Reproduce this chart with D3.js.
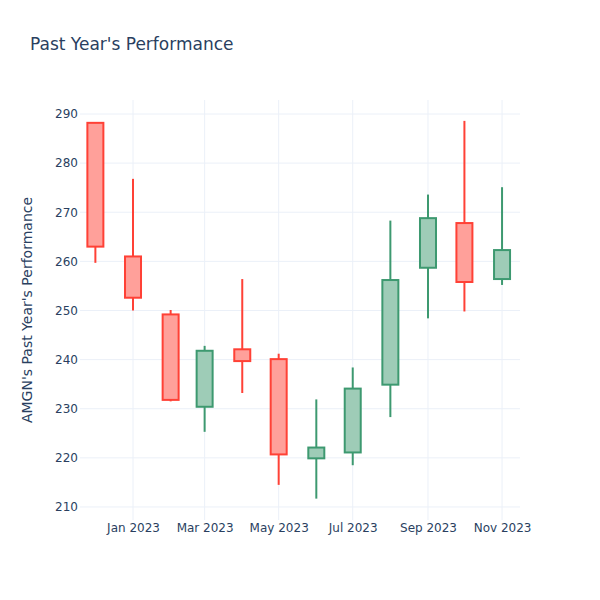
<!DOCTYPE html>
<html>
<head>
<meta charset="utf-8">
<script src="https://cdn.jsdelivr.net/npm/d3@7"></script>
<style>
  body { margin: 0; background: #fff; }
  text { font-family: "DejaVu Sans", Verdana, sans-serif; fill: #2a3f5f; }
</style>
</head>
<body>
<div id="chart-area"></div>
<script>
// monthly candles, AMGN
var dates = ["2022-12-01", "2023-01-01", "2023-02-01", "2023-03-01", "2023-04-01", "2023-05-01",
             "2023-06-01", "2023-07-01", "2023-08-01", "2023-09-01", "2023-10-01", "2023-11-01"];
var opens  = [288.2, 261.0, 249.2, 230.4, 242.1, 240.1, 219.9, 221.1, 234.9, 258.7, 267.8, 256.4];
var highs  = [288.3, 276.8, 250.1, 242.8, 256.4, 241.2, 231.9, 238.4, 268.3, 273.6, 288.6, 275.1];
var lows   = [259.7, 250.0, 231.5, 225.3, 233.2, 214.5, 211.7, 218.5, 228.3, 248.4, 249.8, 255.2];
var closes = [263.0, 252.6, 231.8, 241.8, 239.7, 220.7, 222.1, 234.1, 256.2, 268.8, 255.8, 262.3];
var yTicks = [210, 220, 230, 240, 250, 260, 270, 280, 290];
var xTicks = ["2023-01-01", "2023-03-01", "2023-05-01", "2023-07-01", "2023-09-01", "2023-11-01"];

var parse = d3.utcParse("%Y-%m-%d");
var data = dates.map(function(d, i){
    return {date: parse(d), open: opens[i], high: highs[i], low: lows[i], close: closes[i]};
});

var margin = {left:80, right:80, top:100, bottom:80};
var width = 600 - margin.left - margin.right;
var height = 600 - margin.top - margin.bottom;

var svg = d3.select("#chart-area")
    .append("svg")
    .attr("width", 600)
    .attr("height", 600);

var g = svg.append("g")
    .attr("transform", "translate(" + margin.left + "," + margin.top + ")");

var x = d3.scaleUtc()
    .domain([Date.UTC(2022, 10, 18, 8), Date.UTC(2023, 10, 15, 19)])
    .range([0, width]);

var y = d3.scaleLinear()
    .domain([207.35, 292.85])
    .range([height, 0]);

// grid
g.append("g").selectAll("line.h")
    .data(yTicks)
    .enter().append("line")
    .attr("x1", 0).attr("x2", width)
    .attr("y1", function(d){ return y(d); })
    .attr("y2", function(d){ return y(d); })
    .attr("stroke", "#EBF0F8");

g.append("g").selectAll("line.v")
    .data(xTicks.map(parse))
    .enter().append("line")
    .attr("y1", 0).attr("y2", height)
    .attr("x1", function(d){ return x(d); })
    .attr("x2", function(d){ return x(d); })
    .attr("stroke", "#EBF0F8");

// axes
var xAxisCall = d3.axisBottom(x)
    .tickValues(xTicks.map(parse))
    .tickFormat(d3.utcFormat("%b %Y"))
    .tickSize(0)
    .tickPadding(3);
g.append("g")
    .attr("transform", "translate(0," + height + ")")
    .call(xAxisCall)
    .call(function(a){ a.select(".domain").remove(); })
    .selectAll("text")
        .attr("font-size", "12px")
        .style("fill", "#2a3f5f");

var yAxisCall = d3.axisLeft(y)
    .tickValues(yTicks)
    .tickSize(0)
    .tickPadding(2);
g.append("g")
    .call(yAxisCall)
    .call(function(a){ a.select(".domain").remove(); })
    .selectAll("text")
        .attr("font-size", "12px")
        .style("fill", "#2a3f5f");

// candles
var up = "#3D9970", down = "#FF4136";
var bw = 8;

var candles = g.selectAll("g.candle")
    .data(data)
    .enter().append("g")
    .attr("class", "candle");

candles.append("line")
    .attr("x1", function(d){ return x(d.date); })
    .attr("x2", function(d){ return x(d.date); })
    .attr("y1", function(d){ return y(d.high); })
    .attr("y2", function(d){ return y(d.low); })
    .attr("stroke", function(d){ return d.close >= d.open ? up : down; })
    .attr("stroke-width", 2);

candles.append("rect")
    .attr("x", function(d){ return x(d.date) - bw; })
    .attr("width", bw * 2)
    .attr("y", function(d){ return y(Math.max(d.open, d.close)); })
    .attr("height", function(d){ return Math.abs(y(d.open) - y(d.close)); })
    .attr("fill", "#fff")
    .attr("stroke", "none");

candles.append("rect")
    .attr("x", function(d){ return x(d.date) - bw; })
    .attr("width", bw * 2)
    .attr("y", function(d){ return y(Math.max(d.open, d.close)); })
    .attr("height", function(d){ return Math.abs(y(d.open) - y(d.close)); })
    .attr("fill", function(d){ return d.close >= d.open ? "rgba(61,153,112,0.5)" : "rgba(255,65,54,0.5)"; })
    .attr("stroke", function(d){ return d.close >= d.open ? up : down; })
    .attr("stroke-width", 2);

// titles
svg.append("text")
    .attr("x", 30)
    .attr("y", 50)
    .attr("font-size", "17px")
    .text("Past Year's Performance");

svg.append("text")
    .attr("transform", "translate(32," + (margin.top + height / 2) + ") rotate(-90)")
    .attr("text-anchor", "middle")
    .attr("font-size", "14px")
    .text("AMGN's Past Year's Performance");
</script>
</body>
</html>
